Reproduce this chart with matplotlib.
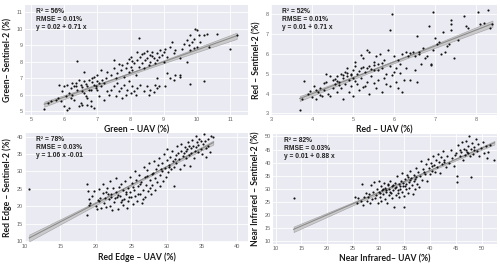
import numpy as np
import matplotlib
matplotlib.use('Agg')
import matplotlib.pyplot as plt

# values (approximate)
green_uav = [5.4, 5.5, 5.6, 5.75, 5.8, 5.9, 5.85, 5.95, 6.0, 6.05, 6.1, 6.15, 6.0, 6.1, 6.15, 6.2, 6.25, 6.3, 6.3, 6.35,
             6.4, 6.4, 6.45, 6.5, 6.5, 6.55, 6.6, 6.6, 6.65, 6.7, 6.7, 6.75, 6.8, 6.8, 6.85, 6.9, 6.9, 6.95, 7.0, 7.0,
             7.05, 7.1, 7.1, 7.15, 7.2, 7.2, 7.25, 7.3, 7.3, 7.35, 6.2, 6.35, 6.55, 6.65, 6.75, 6.85, 6.95, 7.05, 6.45, 6.25,
             6.6, 6.9, 7.0, 6.7, 6.55, 6.8,
             7.4, 7.5, 7.55, 7.6, 7.65, 7.7, 7.75, 7.8, 7.85, 7.9, 7.95, 8.0, 8.05, 8.1, 8.15, 8.2, 8.3, 8.4, 8.5, 8.55,
             8.6, 8.7, 8.75, 8.8, 8.85, 9.05, 9.1, 9.2, 9.3, 9.35, 9.5, 9.5, 9.7, 8.8, 7.5,
             7.4, 7.5, 7.55, 7.6, 7.7, 7.75, 7.8, 7.85, 7.9, 7.95, 8.0, 8.0, 8.05, 8.1, 8.15, 8.2, 8.25, 8.25, 8.3, 8.35,
             8.4, 8.4, 8.45, 8.5, 8.55, 8.6, 8.6, 8.65, 8.7, 8.75, 8.8, 8.8, 8.85, 8.9, 8.95, 9.0, 9.0, 9.05, 9.1, 9.2,
             9.25, 9.3, 9.35, 9.5, 9.55, 8.2, 8.35, 8.5, 8.65, 8.05, 7.65, 7.95,
             9.7, 9.75, 9.8, 9.8, 9.85, 9.9, 9.95, 10.0, 10.0, 10.05, 10.1, 10.2, 10.3, 10.35, 10.6, 9.6, 9.9, 11.0, 11.2, 10.2,
             9.8]
green_s2 = [5.15, 5.5, 5.6, 5.7, 5.8, 5.6, 6.6, 6.2, 5.3, 5.9, 5.1, 5.2, 6.5, 6.6, 6.1, 6.4, 6.0, 6.5, 5.7, 6.7,
            6.3, 8.05, 5.3, 5.5, 6.6, 6.2, 7.4, 6.8, 5.9, 6.5, 5.4, 6.9, 6.3, 5.6, 7.0, 6.6, 5.2, 6.4, 6.8, 7.2,
            5.9, 6.5, 7.5, 6.9, 5.7, 6.7, 7.0, 6.2, 7.4, 6.0, 5.8, 6.55, 6.45, 6.65, 6.3, 6.75, 6.55, 6.7, 6.9, 6.7,
            6.1, 7.1, 6.3, 5.8, 5.4, 5.3,
            6.3, 6.5, 5.9, 6.7, 6.2, 6.4, 5.8, 6.6, 6.0, 6.3, 6.8, 6.1, 6.5, 6.2, 5.95, 6.4, 6.6, 6.2, 6.5, 6.0,
            6.3, 6.15, 6.6, 6.4, 6.55, 6.5, 7.3, 7.0, 6.9, 7.2, 7.2, 7.1, 8.0, 7.0, 8.1,
            7.2, 7.6, 7.0, 7.3, 7.5, 7.8, 7.1, 7.6, 7.9, 7.4, 7.7, 8.3, 7.5, 7.9, 7.2, 8.1, 7.7, 9.45, 8.3, 7.9,
            8.5, 7.6, 8.1, 8.2, 7.8, 8.4, 8.0, 8.6, 8.2, 7.9, 8.5, 8.1, 8.3, 8.7, 8.4, 8.0, 8.6, 8.8, 8.3, 8.9,
            9.2, 8.5, 8.7, 8.2, 8.8, 8.6, 8.45, 8.65, 8.35, 8.05, 7.85, 8.15,
            9.3, 9.0, 9.6, 8.7, 9.2, 9.4, 10.0, 9.95, 8.9, 9.6, 9.2, 9.6, 9.7, 8.9, 9.7, 9.1, 8.85, 8.8, 9.6, 6.8,
            6.65]

red_uav = [3.7, 3.75, 3.8, 3.9, 3.95, 4.0, 4.05, 4.1, 4.15, 4.2, 4.25, 4.3, 4.35, 4.35, 4.4, 4.45, 4.5, 4.5, 4.55, 4.6,
           4.6, 4.65, 4.7, 4.7, 4.75, 4.75, 4.8, 4.8, 4.85, 4.85, 4.9, 4.9, 4.95, 4.95, 5.0, 5.0, 5.0, 5.05, 5.1, 5.1,
           5.15, 5.2, 5.2, 5.25, 5.3, 5.3, 5.35, 5.4, 5.4, 5.45, 5.5, 5.5, 5.55, 5.6, 5.6, 5.65, 5.7, 5.7, 5.75, 5.8,
           5.8, 5.85, 5.9, 5.9, 5.9, 5.95, 6.0, 6.0, 6.05, 6.1, 6.1, 6.15, 6.2, 6.2, 6.25, 6.3, 6.35, 6.4, 6.45, 6.5,
           6.55, 6.55, 6.6, 6.65, 6.7, 6.75, 6.8, 6.85, 6.9, 6.9, 6.95, 6.95, 7.0, 7.05, 7.1, 7.15, 7.2, 7.25, 7.3, 7.35,
           7.4, 7.4, 7.4, 7.45, 7.55, 7.7, 7.75, 7.8, 8.05, 8.1, 8.2, 8.3, 8.4, 8.35,
           4.85, 4.75, 4.95, 5.05, 4.6, 4.55, 4.65, 5.15, 5.35, 5.45, 5.6, 5.25, 5.5, 5.7, 5.55, 6.05, 6.15, 5.95, 5.75, 5.35,
           5.25, 5.5, 5.05, 5.2, 5.4, 4.45, 4.3, 4.1, 4.2, 6.3, 6.4, 6.5, 6.6]
red_s2 = [3.15, 3.7, 4.65, 4.0, 4.15, 3.8, 4.4, 3.7, 4.1, 4.3, 3.9, 4.2, 5.0, 4.6, 4.0, 3.85, 4.3, 4.7, 4.5, 4.9,
          4.1, 4.6, 5.0, 4.3, 4.8, 3.7, 5.1, 4.5, 4.9, 5.3, 4.7, 4.1, 5.0, 4.4, 5.2, 4.8, 3.9, 5.6, 4.5, 5.0,
          4.2, 5.3, 4.8, 5.8, 5.1, 4.4, 6.2, 5.4, 4.0, 4.9, 5.6, 5.2, 4.3, 5.5, 4.7, 6.0, 5.3, 4.1, 5.7, 5.0,
          4.5, 6.2, 5.4, 7.2, 4.4, 8.0, 5.9, 5.1, 4.6, 5.7, 4.3, 5.5, 6.0, 4.1, 4.7, 5.3, 5.9, 4.7, 6.1, 5.2,
          6.9, 4.6, 6.0, 5.5, 6.3, 5.8, 5.9, 7.4, 5.5, 5.45, 6.2, 8.1, 6.8, 6.5, 6.6, 6.0, 7.1, 6.1, 6.4, 6.5,
          7.7, 7.5, 7.2, 5.8, 6.7, 7.9, 7.4, 7.3, 8.1, 7.5, 7.55, 8.2, 7.5, 7.3,
          5.05, 4.95, 4.95, 4.65, 4.65, 4.75, 4.45, 5.15, 5.3, 5.25, 5.2, 5.35, 5.45, 5.55, 5.9, 5.3, 5.05, 4.95, 4.8, 4.6,
          4.35, 4.55, 5.4, 5.95, 6.1, 4.9, 4.55, 4.2, 3.95, 6.1, 6.05, 5.9, 6.1]

rededge_uav = [10.6, 18.7, 18.8, 18.9, 19, 19, 19.2, 19.5, 19.8, 20, 20.2, 20.3, 20.5, 20.6, 20.8, 21, 21, 21.2, 21.4, 21.5,
               21.6, 21.8, 22, 22, 22.2, 22.3, 22.5, 22.6, 22.8, 22.9, 23, 23.1, 23.3, 23.4, 23.5, 23.6, 23.8, 23.9, 24, 24.1,
               24.3, 24.4, 24.5, 24.6, 24.8, 24.9, 25, 25.1, 25.3, 25.4, 25.5, 25.6, 25.7, 25.8, 26, 26.1, 26.2, 26.4, 26.5, 26.6,
               26.8, 26.9, 27, 27.1, 27.3, 27.4, 27.5, 27.6, 27.8, 27.9, 28, 28.2, 28.3, 28.4, 28.5, 28.6, 28.8, 28.9, 29, 29.1,
               29.3, 29.4, 29.5, 29.6, 29.8, 29.9, 30, 30, 30.2, 30.4, 30.5, 30.6, 30.8, 30.9, 31, 31.1, 31.3, 31.4, 31.5, 31.6,
               31.8, 31.9, 32, 32.1, 32.3, 32.4, 32.5, 32.6, 32.8, 32.9, 33, 33.1, 33.3, 33.4, 33.5, 33.6, 33.8, 33.9, 34, 34.1,
               34.3, 34.4, 34.5, 34.6, 34.8, 34.9, 35, 35.1, 35.3, 35.4, 35.5, 35.6, 35.8, 35.9, 36.1, 36.3, 36.6, 34.2, 33.2, 32.7,
               31.2, 30.3, 29.2, 28.1, 27.2, 26.3, 25.2, 24.2, 23.2, 22.1, 21.3, 20.4, 26.7, 27.7, 25.9, 24.7, 23.7, 22.7, 21.7]
rededge_s2 = [25, 17.5, 26.3, 24.4, 22, 20.5, 21, 23, 24.5, 20, 19.4, 21.8, 25, 22.5, 19.5, 23.8, 26.4, 21, 24.2, 19.9,
              25.3, 22.2, 27.2, 20.1, 23.7, 18.9, 25.2, 21.3, 24, 28, 22.6, 19.4, 25.7, 23.1, 21.3, 26.4, 24.7, 20.4, 22.2, 27.3,
              23.6, 19.5, 25.3, 21.6, 24.2, 28.4, 22.6, 26.6, 20.8, 24.8, 30, 23, 27.6, 21.5, 25.8, 29, 23.5, 27, 21, 24.6,
              31.4, 28.4, 22.6, 26, 30.3, 24.5, 32.5, 27.5, 23.5, 29.2, 26, 33, 28.2, 24.8, 30.6, 27, 31.8, 34, 29, 25.8,
              32.4, 30, 27.2, 35, 31, 28.3, 33.2, 36.5, 29.8, 32, 34.2, 30.6, 36, 33, 31.2, 25.8, 34.8, 32.3, 37.4, 35.4,
              33.5, 30.8, 36, 38, 34.5, 32, 35.3, 37, 33.8, 36.3, 38.4, 34.8, 31.6, 36.7, 35.2, 39, 37.4, 34, 36, 40.2,
              38.3, 35.6, 37.5, 39.4, 36.4, 38.6, 35, 37.8, 40.6, 38.8, 36.8, 34.2, 39.4, 37.2, 35.6, 40.2, 39.8, 37, 37.2, 35.8,
              33.7, 31.4, 30.8, 29.6, 28.6, 26.3, 25.5, 24.2, 23.3, 22.6, 22.3, 21.5, 22.2, 25.3, 23.7, 22.8, 21.8, 22.5, 23.7]

nir_uav = [13.5, 25.5, 25.8, 26, 26.5, 26.8, 27, 27.2, 27.5, 27.8, 28, 28.3, 28.5, 28.7, 29, 29.2, 29.4, 29.6, 29.8, 30,
           30, 30.2, 30.4, 30.5, 30.7, 30.9, 31, 31.2, 31.3, 31.5, 31.6, 31.8, 32, 32.1, 32.3, 32.4, 32.6, 32.7, 32.9, 33,
           33.1, 33.3, 33.4, 33.6, 33.7, 33.9, 34, 34.2, 34.3, 34.5, 34.6, 34.8, 34.9, 35, 35.1, 35.3, 35.4, 35.6, 35.7, 35.9,
           36, 36.2, 36.3, 36.5, 36.6, 36.8, 36.9, 37, 37.2, 37.3, 37.5, 37.6, 37.8, 38, 38.3, 38.5, 38.7, 39, 39.2, 39.4,
           39.6, 39.8, 40, 40.2, 40.4, 40.6, 40.8, 41, 41.2, 41.4, 41.6, 41.8, 42, 42.2, 42.4, 42.6, 42.8, 43, 43.3, 43.6,
           44, 44.3, 44.6, 45, 45.2, 45.3, 45.5, 45.8, 46, 46.2, 46.4, 46.6, 46.8, 47, 47.2, 47.4, 47.5, 47.7, 47.9, 48,
           48.2, 48.4, 48.6, 48.9, 49.1, 49.4, 49.6, 49.9, 50.2, 50.5, 50.8, 51.2, 51.6, 52.5, 51, 30.8, 31.4, 32.2, 33.2, 34.1,
           35.2, 36.1, 37.1, 32.8, 31.9, 30.3, 29.5, 28.2, 33.8, 34.7, 35.8, 38.8, 40.3, 42.7, 44.8, 46.9, 48.5, 47.3, 45.9]
nir_s2 = [26.5, 27, 24.5, 26.5, 25.2, 32, 23.8, 26.8, 28.3, 25.5, 27, 24.8, 31.5, 26, 28.8, 32.5, 26.5, 30, 24.5, 29,
          33, 27, 31, 25.5, 29.7, 28, 32.4, 26.2, 30.5, 28.8, 24.6, 31.6, 27.6, 30, 33, 28.6, 31.2, 26.6, 29.6, 23,
          32.4, 27.6, 30.6, 34.8, 28.4, 31.8, 26.8, 30, 33.2, 29, 36, 31.2, 27.4, 23.2, 33.6, 29.8, 31.8, 35.2, 28.6, 32.6,
          30.4, 37, 34, 31.4, 28.2, 35.4, 33, 29.8, 38, 34.6, 32, 36.4, 30.8, 34.8, 40.6, 33.4, 37.4, 35.6, 39.4, 33,
          41.4, 38, 35.8, 40, 37, 42.6, 39, 36.6, 41.2, 38.2, 43.4, 40.4, 36.2, 42, 39.4, 44.4, 41, 38.4, 42.6, 40,
          44.8, 41.6, 38.6, 43.6, 34.8, 32.8, 46.6, 42.4, 44, 47.8, 41.2, 45.4, 43, 48.2, 44.2, 46.4, 50, 42.6, 45.4, 34.5,
          47.6, 43.4, 45.8, 49, 44.4, 47, 42.4, 45.6, 48, 43.6, 46.4, 44.2, 46.8, 41, 41.8, 30, 29.4, 29, 30.3, 31,
          31.2, 33.3, 33.8, 31.4, 32, 28.4, 27.8, 28.2, 29.6, 32.2, 34.6, 36.4, 38.6, 40.2, 42.8, 45, 44.8, 43.8, 44.8]

panels = [
    (green_uav, green_s2, 'Green \u2013 UAV (%)', 'Green\u2013 Sentinel-2 (%)',
     'R\u00b2 = 56%\nRMSE = 0.01%\ny = 0.02 + 0.71 x', (4.82, 11.54), (4.76, 11.44), np.arange(5, 12, 1), np.arange(5, 12, 1)),
    (red_uav, red_s2, 'Red \u2013 UAV (%)', 'Red \u2013 Sentinel-2 (%)',
     'R\u00b2 = 52%\nRMSE = 0.01%\ny = 0.01 + 0.71 x', (3.0, 8.51), (2.91, 8.47), np.arange(3, 9, 1), np.arange(3, 9, 1)),
    (rededge_uav, rededge_s2, 'Red Edge \u2013 UAV (%)', 'Red Edge \u2013 Sentinel-2 (%)',
     'R\u00b2 = 78%\nRMSE = 0.03%\ny = 1.06 x -0.01', (10, 41.5), (9.8, 41), np.arange(10, 41, 5), np.arange(10, 41, 5)),
    (nir_uav, nir_s2, 'Near Infrared\u2013 UAV (%)', 'Near Infrared \u2013 Sentinel-2 (%)',
     'R\u00b2 = 82%\nRMSE = 0.03%\ny = 0.01 + 0.88 x', (9.5, 53), (9, 51), np.arange(10, 51, 5), np.arange(10, 51, 5)),
]

positions = [[0.05, 0.564, 0.446, 0.417], [0.542, 0.564, 0.452, 0.417],
             [0.05, 0.083, 0.446, 0.413], [0.546, 0.076, 0.448, 0.417]]

fig = plt.figure(figsize=(5, 2.64), dpi=100)

for i, (pos, (x, y, xl, yl, txt, xlim, ylim, xt, yt)) in enumerate(zip(positions, panels)):
    x = np.array(x, dtype=float)
    y = np.array(y, dtype=float)
    ax = fig.add_axes(pos)
    ax.set_zorder(10 - i)  # top row labels stay above the lower panels
    ax.set_facecolor('#EAEAF2')
    for s in ax.spines.values():
        s.set_visible(False)
    ax.grid(True, color='white', linewidth=0.6)
    ax.set_axisbelow(True)

    # regression line with confidence band (narrowed: the original used ~3x more points)
    b, a = np.polyfit(x, y, 1)
    xs = np.linspace(x.min(), x.max(), 100)
    ys = a + b * xs
    n = len(x)
    resid = y - (a + b * x)
    s_err = np.sqrt(np.sum(resid ** 2) / (n - 2))
    se = s_err * np.sqrt(1.0 / n + (xs - x.mean()) ** 2 / np.sum((x - x.mean()) ** 2))
    band = 1.96 * se * 0.6
    ax.fill_between(xs, ys - band, ys + band, color='#bdbdbd', alpha=0.7,
                    edgecolor='#8a8a8a', linewidth=0.4, zorder=2)
    ax.plot(xs, ys, color='#8c8c8c', linewidth=0.8, zorder=3)

    ax.scatter(x, y, s=2.4, color='#111111', linewidths=0, zorder=4)

    ax.set_xlim(*xlim)
    ax.set_ylim(*ylim)
    ax.set_xticks(xt)
    ax.set_yticks(yt)
    ax.tick_params(length=0, pad=1.5, labelsize=4, labelcolor='#666666')
    for lbl in ax.get_xticklabels() + ax.get_yticklabels():
        lbl.set_family('Liberation Sans')
    ax.set_xlabel(xl, fontsize=6.2, fontweight='bold', family='Lato', color='#1a1a1a', labelpad=2.5)
    ax.set_ylabel(yl, fontsize=6.2, fontweight='bold', family='Lato', color='#1a1a1a', labelpad=3)
    ax.text(0.05, 0.975, txt, transform=ax.transAxes, va='top', ha='left', fontsize=4.8,
            fontweight='bold', family='Liberation Sans', color='#222222', linespacing=1.2)

fig.savefig('out.png', dpi=100)
